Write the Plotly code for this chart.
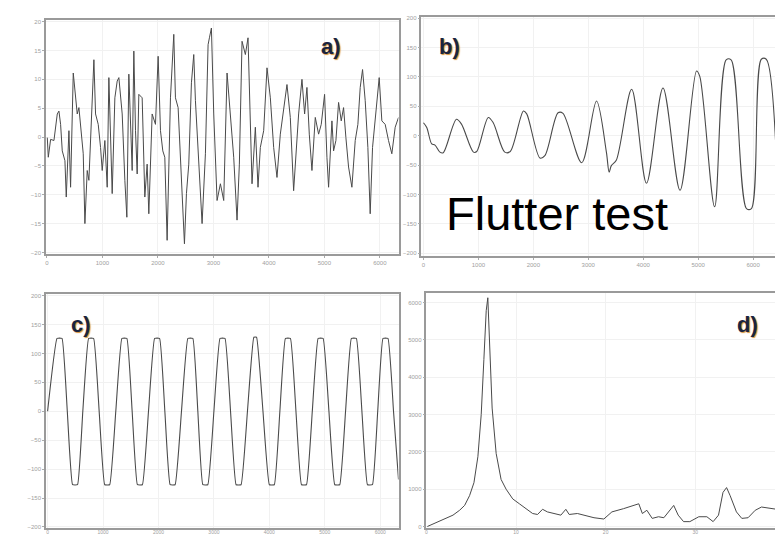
import plotly.graph_objects as go

# ---------------- data ----------------
# a) random-like response
a_x = [6,24,66,126,186,216,246,276,324,348,396,426,474,516,546,576,624,654,684,726,756,804,846,876,924,966,996,1044,1086,1116,1146,1176,1224,1266,1296,1326,1356,1404,1440,1476,1506,1536,1566,1596,1626,1656,1716,1764,1806,1836,1896,1956,2004,2046,2088,2124,2166,2226,2286,2316,2364,2406,2436,2478,2514,2556,2604,2646,2676,2724,2766,2796,2856,2904,2928,2964,3006,3066,3126,3186,3246,3306,3366,3426,3468,3516,3576,3624,3666,3696,3756,3804,3846,3906,3966,4026,4086,4146,4206,4326,4386,4446,4536,4596,4644,4686,4728,4776,4836,4896,4944,5004,5046,5076,5136,5166,5208,5256,5304,5346,5388,5436,5496,5556,5604,5646,5688,5736,5784,5826,5868,5946,5988,6036,6096,6156,6216,6276,6336]
a_y = [-0.1,-3.5,-0.4,-0.6,4.0,4.5,2.2,-2.4,-4.1,-10.4,1.1,-8.7,11.1,6.8,4.0,5.1,-0.1,-2.9,-15.0,-5.8,-7.5,5.1,13.4,4.0,2.2,-1.8,-5.8,-0.6,-8.7,10.3,1.1,-9.8,6.8,9.7,10.3,6.8,4.0,-7.5,-13.9,10.9,1.1,-5.8,14.9,1.1,-6.4,7.4,6.8,-10.4,-4.7,-13.3,4.0,2.2,14.0,1.1,-2.4,-3.5,-17.9,6.8,17.8,6.8,5.1,-2.9,-11.0,-18.5,-9.8,-4.7,9.4,14.3,6.3,-2.9,-8.7,-15.0,-2.9,16.0,17.2,18.9,4.0,-11.0,-8.1,-11.0,11.1,4.0,-3.5,-14.4,-4.7,16.6,14.3,17.2,2.8,-8.1,1.7,-8.7,-1.8,1.1,12.0,6.8,-1.8,-7.0,0.5,9.1,3.4,-9.3,4.0,10.0,4.0,8.6,0.5,-5.8,3.4,0.5,2.2,7.4,-3.5,-8.7,2.8,-2.4,-0.6,6.0,2.8,5.1,-0.1,-5.2,-8.7,-0.6,2.2,8.6,11.7,6.3,-1.8,-13.3,-1.8,6.3,10.3,2.8,2.2,-0.6,-2.9,1.7,3.4]

# b) flutter test (growing oscillation)
b_x = [0,60,150,210,300,360,600,690,910,970,1180,1270,1480,1580,1820,1880,2120,2210,2450,2540,2880,3150,3330,3380,3420,3510,3790,4060,4360,4670,4970,5030,5300,5510,5600,5880,5970,6150,6240,6450]
b_y = [22,14,-14,-16,-28,-29,28,20,-28,-27,31,22,-28,-27,42,37,-38,-34,39,38,-46,59,-28,-62,-51,-42,79,-81,81,-93,110,101,-121,129,129,-124,-124,130,130,-101]

# c) limit-cycle (clipped) oscillation
c_x = [0,170,260,355,450,540,635,740,830,930,1030,1120,1230,1340,1430,1525,1620,1710,1820,1930,2020,2115,2210,2300,2415,2530,2620,2710,2800,2890,3000,3110,3200,3300,3400,3490,3605,3720,3770,3885,4000,4090,4190,4290,4380,4480,4580,4670,4775,4880,4970,5075,5180,5270,5375,5480,5570,5670,5770,5860,5955,6050,6140,6240,6330]
c_y = [0,126,126,0,-127,-127,0,126,126,0,-127,-127,0,126,126,0,-127,-127,0,126,126,0,-127,-127,0,126,126,0,-127,-127,0,126,126,0,-127,-127,0,128,128,0,-127,-127,0,126,126,0,-127,-127,0,126,126,0,-127,-127,0,126,126,0,-127,-127,0,126,126,0,-118]

# d) spectrum
d_x = [0.1,0.93,2.04,2.96,3.7,4.26,4.81,5.3,5.74,6.11,6.41,6.67,6.85,7.04,7.33,7.78,8.33,8.89,9.63,10.37,11.1,11.85,12.4,12.96,13.5,14.26,15.0,15.56,15.93,16.85,17.6,18.7,19.8,20.7,22.0,23.1,23.7,24.1,24.6,25.2,25.9,26.5,27.0,27.6,28.1,28.7,29.4,30.4,31.3,32.0,32.6,33.1,33.5,33.9,34.6,35.2,35.9,36.7,37.4,38.3,39.1]
d_y = [0,87,217,304,435,565,826,1174,1870,3000,4478,5783,6130,4913,3174,1957,1261,1000,739,609,478,348,322,461,391,348,304,461,322,348,304,235,200,391,478,565,609,348,435,217,261,235,391,565,304,130,130,261,261,130,304,913,1043,826,391,217,235,435,522,496,461]

a_yticks = [-20, -15, -10, -5, 0, 5, 10, 15, 20]
b_yticks = [-200, -150, -100, -50, 0, 50, 100, 150, 200]
c_yticks = [-200, -150, -100, -50, 0, 50, 100, 150, 200]
d_yticks = [0, 1000, 2000, 3000, 4000, 5000, 6000]
t_xticks = [0, 1000, 2000, 3000, 4000, 5000, 6000]
d_xticks = [0, 10, 20, 30, 40]

W, H = 783, 535
def dx(p0, p1):
    return [p0 / W, p1 / W]
def dy(p_top, p_bot):
    return [1 - p_bot / H, 1 - p_top / H]

LINE = "#4a4a4a"
fig = go.Figure()
fig.add_trace(go.Scatter(x=a_x, y=a_y, mode="lines", line=dict(color=LINE, width=1), xaxis="x", yaxis="y"))
fig.add_trace(go.Scatter(x=b_x, y=b_y, mode="lines", line=dict(color=LINE, width=1.1, shape="spline", smoothing=0.9), xaxis="x2", yaxis="y2"))
fig.add_trace(go.Scatter(x=c_x, y=c_y, mode="lines", line=dict(color=LINE, width=1.1, shape="spline", smoothing=0.3), xaxis="x3", yaxis="y3"))
fig.add_trace(go.Scatter(x=d_x, y=d_y, mode="lines", line=dict(color=LINE, width=1), xaxis="x4", yaxis="y4"))

ax = dict(showline=True, mirror=True, linecolor="#9a9a9a", linewidth=1.5, ticks="outside",
          ticklen=2, tickcolor="#aaaaaa", tickfont=dict(size=6, color="#a0a0a0", family="Liberation Sans"),
          showgrid=True, gridcolor="#f1f1f1", gridwidth=1, zeroline=False, fixedrange=True)
axb = dict(ax, ticks="", ticklabelstandoff=-2, tickfont=dict(size=5, color="#a0a0a0", family="Liberation Sans"))

fig.update_layout(
    width=W, height=H, margin=dict(l=0, r=0, t=0, b=0),
    paper_bgcolor="white", plot_bgcolor="white", showlegend=False,
    xaxis=dict(ax, domain=dx(37, 390), range=[-18, 6336], tickvals=t_xticks, anchor="y"),
    yaxis=dict(ax, domain=dy(10, 246), range=[-20.3, 20.3], tickvals=a_yticks, anchor="x"),
    xaxis2=dict(ax, domain=dx(413, 770), range=[-36, 6454], tickvals=t_xticks, anchor="y2"),
    yaxis2=dict(ax, domain=dy(7, 248), range=[-205, 202], tickvals=b_yticks, anchor="x2"),
    xaxis3=dict(axb, domain=dx(37, 390), range=[-30, 6330], tickvals=t_xticks, anchor="y3"),
    yaxis3=dict(ax, domain=dy(286, 522), range=[-202, 203], tickvals=c_yticks, anchor="x3"),
    xaxis4=dict(axb, domain=dx(418, 775), range=[0, 39.8], tickvals=d_xticks, anchor="y4"),
    yaxis4=dict(ax, domain=dy(285, 522), range=[-43, 6261], tickvals=d_yticks, anchor="x4"),
)

lab_font = dict(size=22, color="#1b2440", family="Liberation Sans", shadow="1px 1px 1px #d8923a")
labels = [("a)", 322, 37), ("b)", 441, 37), ("c)", 72, 317), ("d)", 739, 317)]
for txt, px, py in labels:
    fig.add_annotation(text="<b>" + txt + "</b>", x=px / W, y=1 - py / H, xref="paper", yref="paper",
                       showarrow=False, xanchor="center", yanchor="middle", font=lab_font)

fig.add_annotation(text="Flutter test", x=549 / W, y=1 - 205 / H, xref="paper", yref="paper",
                   showarrow=False, xanchor="center", yanchor="middle",
                   font=dict(size=47, color="black", family="Liberation Sans"))

fig.write_html("out.html")
